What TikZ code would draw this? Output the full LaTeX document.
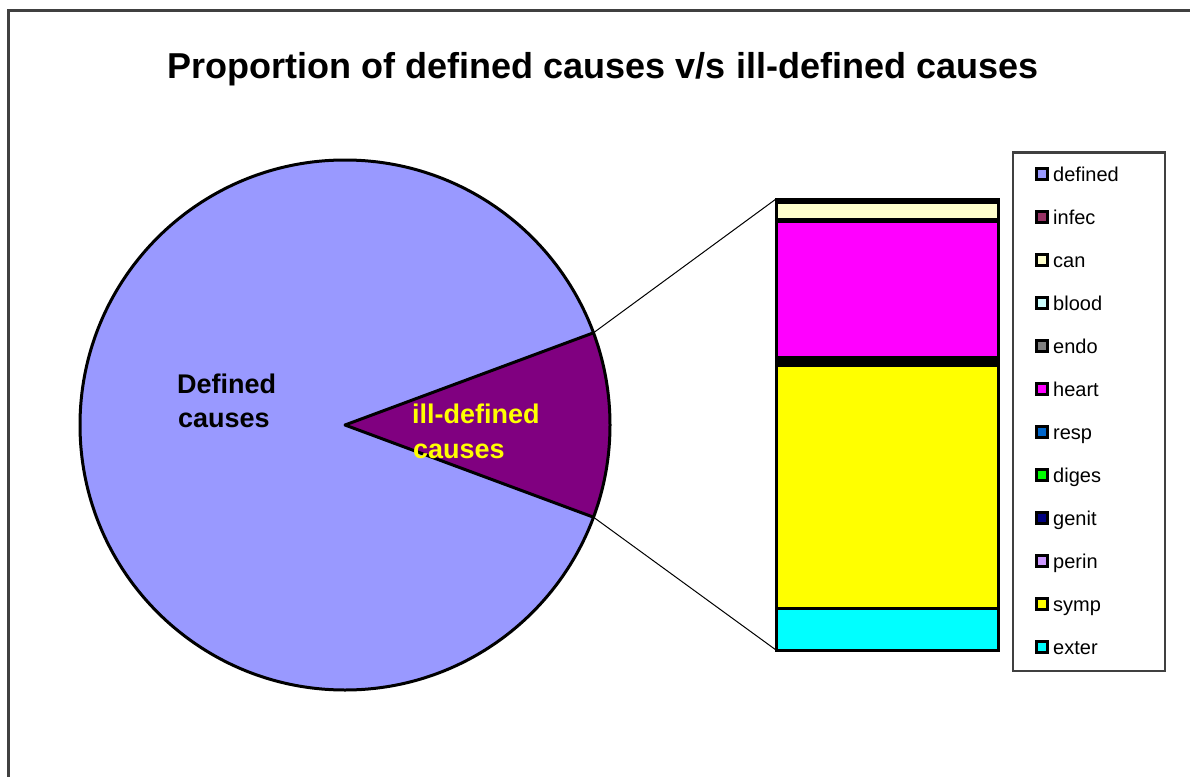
\documentclass[tikz,border=0pt]{standalone}
\usepackage{fontspec}
\setmainfont{Liberation Sans}
\definecolor{cdef}{HTML}{9999FF}
\definecolor{cill}{HTML}{800080}
\definecolor{cinf}{HTML}{993366}
\definecolor{ccan}{HTML}{FFFFCC}
\definecolor{cblo}{HTML}{CCFFFF}
\definecolor{cend}{HTML}{808080}
\definecolor{chea}{HTML}{FF00FF}
\definecolor{cres}{HTML}{0066CC}
\definecolor{cdig}{HTML}{00FF00}
\definecolor{cgen}{HTML}{000080}
\definecolor{cper}{HTML}{CC99FF}
\definecolor{csym}{HTML}{FFFF00}
\definecolor{cext}{HTML}{00FFFF}
\definecolor{cframe}{HTML}{404040}
\begin{document}
\begin{tikzpicture}[x=1bp,y=-1bp,
  frame/.style={draw=cframe,line width=2.2bp},
  outline/.style={draw=black,line width=3bp,line join=round},
  seg/.style={draw=black,line width=3bp},
  leader/.style={draw=black,line width=1bp},
  swatch/.style={draw=black,line width=2.6bp,minimum size=10.5bp,inner sep=0pt},
  legtext/.style={font=\fontsize{20bp}{24bp}\selectfont,inner sep=0pt,anchor=base west},
  pielabel/.style={font=\bfseries\fontsize{27bp}{32bp}\selectfont,inner sep=0pt,anchor=base west},
  titlestyle/.style={font=\bfseries\fontsize{36bp}{42bp}\selectfont,inner sep=0pt,anchor=base}]
\useasboundingbox (0,0) rectangle (1190,777);
\fill[white] (0,0) rectangle (1190,777);
% outer chart frame (only left and top edges visible)
\draw[frame] (8.5,777) -- (8.5,10.5) -- (1190,10.5);
% title
\node[titlestyle] (title) at (603,79) {Proportion of defined causes v/s ill-defined causes};
% pie
\coordinate (c) at (345,425);
\fill[cdef] (c) circle[radius=265];
\coordinate (wu) at (593.5,332.8);
\coordinate (wl) at (593.5,517.2);
\fill[cill] (c) -- (wu) arc[start angle=-20.35,end angle=20.35,radius=265] -- cycle;
\draw[outline] (c) circle[radius=265];
\draw[outline] (wl) -- (c) -- (wu);
% pie labels
\node[pielabel] (d1) at (177,393) {Defined};
\node[pielabel] (d2) at (178,427) {causes};
\node[pielabel,text=csym] (i1) at (412,423) {ill-defined};
\node[pielabel,text=csym] (i2) at (413,458) {causes};
% stacked bar
\coordinate (btl) at (776,199);
\coordinate (bbl) at (776,650);
\draw[leader] (wu) -- (btl);
\draw[leader] (wl) -- (bbl);
\filldraw[seg,fill=cinf] (776,199) rectangle (998,202.5);
\filldraw[seg,fill=ccan] (776,202.5) rectangle (998,219.5);
\filldraw[seg,fill=cblo] (776,219.5) rectangle (998,220.2);
\filldraw[seg,fill=cend] (776,220.2) rectangle (998,221);
\filldraw[seg,fill=chea] (776,221) rectangle (998,357);
\filldraw[seg,fill=cres] (776,357) rectangle (998,359);
\filldraw[seg,fill=cdig] (776,359) rectangle (998,361);
\filldraw[seg,fill=cgen] (776,361) rectangle (998,363);
\filldraw[seg,fill=cper] (776,363) rectangle (998,365);
\filldraw[seg,fill=csym] (776,365) rectangle (998,608);
\filldraw[seg,fill=cext] (776,608) rectangle (998,650);
% legend
\draw[frame] (1013,152.5) rectangle (1165,671) node[pos=0.5] (legend) {};
\foreach \n/\col [count=\i from 0] in {defined/cdef,infec/cinf,can/ccan,blood/cblo,endo/cend,heart/chea,resp/cres,diges/cdig,genit/cgen,perin/cper,symp/csym,exter/cext}{
  \node[swatch,fill=\col] (sw\i) at (1042,{174+43*\i}) {};
  \node[legtext] (lt\i) at (1053,{181+43*\i}) {\n};
}
\end{tikzpicture}
\end{document}
